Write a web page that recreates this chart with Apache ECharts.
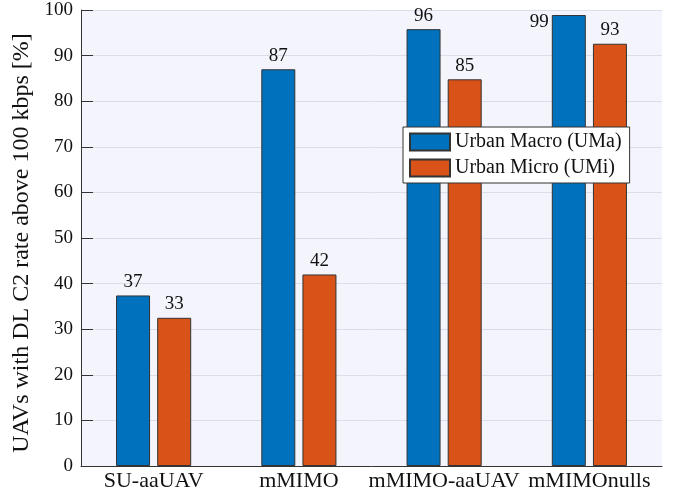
<!DOCTYPE html>
<html><head><meta charset="utf-8">
<script src="https://cdn.jsdelivr.net/npm/echarts@6/dist/echarts.min.js"></script>
<style>html,body{margin:0;padding:0;background:#fff}#c{width:683px;height:495px}</style>
</head><body><div id="c"></div>
<script>
const categories = ['SU-aaUAV', 'mMIMO', 'mMIMO-aaUAV', 'mMIMOnulls'];
const umaValues = [37.4, 87.0, 95.8, 98.9];
const umiValues = [32.5, 42.0, 84.8, 92.6];
const seriesNames = ['Urban Macro (UMa)', 'Urban Micro (UMi)'];
const yTicks = [0, 10, 20, 30, 40, 50, 60, 70, 80, 90, 100];

const FONT = 'Liberation Serif';
const chart = echarts.init(document.getElementById('c'));

function mkData(vals, leftIdx) {
  return vals.map((v, i) => {
    const d = { value: v };
    if (i === leftIdx) {
      d.label = { position: [-3, 7], align: 'right', verticalAlign: 'middle' };
    }
    return d;
  });
}

const lbl = {
  show: true, position: 'top', distance: 4,
  fontFamily: FONT, fontSize: 19, color: '#111',
  formatter: p => Math.round(p.value)
};

chart.setOption({
  animation: false,
  grid: { left: 81, right: 21, top: 10, bottom: 29, show: true, backgroundColor: '#f4f5fc', borderWidth: 0 },
  legend: {
    orient: 'vertical', left: 403, top: 127,
    itemWidth: 40, itemHeight: 17, itemGap: 6,
    padding: [5, 8, 5, 6],
    backgroundColor: '#fff', borderColor: '#333', borderWidth: 1,
    textStyle: { fontFamily: FONT, fontSize: 20, color: '#111' },
    data: seriesNames.map(n => ({ name: n, icon: 'rect' }))
  },
  xAxis: {
    type: 'category', data: categories,
    axisLine: { lineStyle: { color: '#333', width: 1 } },
    axisTick: { show: false },
    axisLabel: { interval: 0, fontFamily: FONT, fontSize: 22, color: '#111', margin: 4 }
  },
  yAxis: {
    type: 'value', min: yTicks[0], max: yTicks[yTicks.length - 1], interval: 10,
    name: 'UAVs with DL C2 rate above 100 kbps [%]',
    nameLocation: 'middle', nameGap: 42,
    nameTextStyle: { fontFamily: FONT, fontSize: 24, color: '#111', padding: [0, 10, 0, 0] },
    axisLine: { show: true, lineStyle: { color: '#333', width: 1 } },
    axisTick: { show: true, inside: true, length: 12, lineStyle: { color: '#333' } },
    axisLabel: { fontFamily: FONT, fontSize: 19, color: '#111', margin: 8 },
    splitLine: { lineStyle: { color: '#dcdde8', width: 1 } }
  },
  series: [
    { name: seriesNames[0], type: 'bar', data: mkData(umaValues, 3), barWidth: 34, barGap: '21%',
      itemStyle: { color: '#0072BD', borderColor: '#333', borderWidth: 1 }, label: lbl },
    { name: seriesNames[1], type: 'bar', data: mkData(umiValues, -1), barWidth: 34,
      itemStyle: { color: '#D95319', borderColor: '#333', borderWidth: 1 }, label: lbl }
  ]
});
</script></body></html>
